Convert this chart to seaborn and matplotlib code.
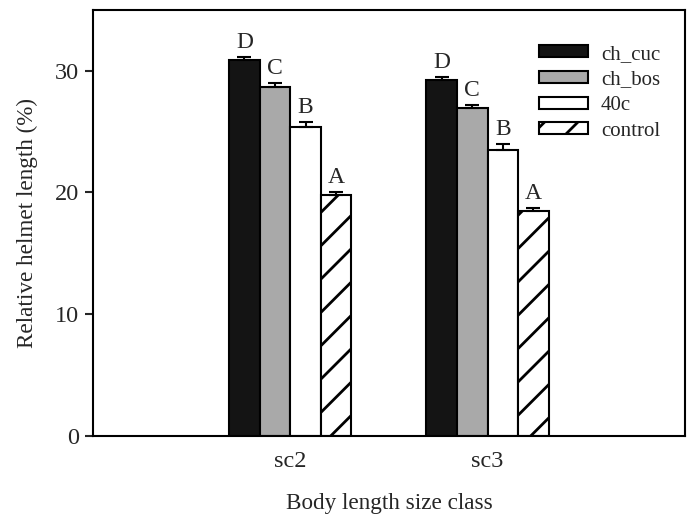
import pandas as pd
import numpy as np
import seaborn as sns
from matplotlib import pyplot as plt

size_classes = ["sc2", "sc3"]
treatments = ["ch_cuc", "ch_bos", "40c", "control"]
means_sc2 = [30.9, 28.7, 25.4, 19.8]
means_sc3 = [29.2, 26.9, 23.5, 18.5]
err_sc2 = [0.2, 0.25, 0.35, 0.2]
err_sc3 = [0.3, 0.25, 0.45, 0.25]
letters = ["D", "C", "B", "A"]

df = pd.DataFrame({
    "size_class": np.repeat(size_classes, len(treatments)),
    "treatment": treatments * len(size_classes),
    "value": means_sc2 + means_sc3,
    "err": err_sc2 + err_sc3,
})

sns.set_style("white")
plt.rcParams["font.family"] = ["Liberation Serif", "DejaVu Serif"]
plt.rcParams["hatch.linewidth"] = 2.0

fig = plt.figure(figsize=(6.89, 5.16), dpi=100)
ax = fig.add_axes([0.135, 0.155, 0.859, 0.826])

colors = ["#141414", "#a9a9a9", "white", "white"]
hatches = ["", "", "", "/"]

sns.barplot(data=df, x="size_class", y="value", hue="treatment",
            order=size_classes, hue_order=treatments, palette=colors,
            width=0.62, gap=0, errorbar=None, ax=ax, legend=False,
            edgecolor="black", linewidth=1.5, saturation=1)

bar_conts = list(ax.containers)
for cont, h, t in zip(bar_conts, hatches, treatments):
    sub = df[df.treatment == t].set_index("size_class").loc[size_classes]
    for bar, val, err in zip(cont.patches, sub.value, sub.err):
        bar.set_hatch(h)
        bar.set_facecolor(colors[treatments.index(t)])
        bar.set_edgecolor("black")
        xc = bar.get_x() + bar.get_width() / 2
        ax.errorbar(xc, val, yerr=[[0], [err]], color="black",
                    capsize=5, capthick=1.5, elinewidth=1.5, zorder=3)
        ax.annotate(letters[treatments.index(t)], (xc, val + err),
                    xytext=(0, 3), textcoords="offset points",
                    ha="center", va="bottom", fontsize=17)

ax.set_xlim(-1, 2)
ax.set_ylim(0, 35)
ax.set_yticks([0, 10, 20, 30])
ax.tick_params(axis="y", direction="out", length=6, width=1.5, left=True,
               labelsize=17.5, pad=4)
ax.tick_params(axis="x", length=0, pad=11, labelsize=17.5)
for s in ax.spines.values():
    s.set_visible(True)
    s.set_linewidth(1.5)
    s.set_color("black")

ax.set_xlabel("Body length size class", fontsize=16.7, labelpad=15)
ax.set_ylabel("Relative helmet length (%)", fontsize=16.7, labelpad=12)

handles = [c.patches[0] for c in bar_conts]
ax.legend(handles, treatments, loc="upper right", frameon=False,
          fontsize=15, handlelength=2.35, handleheight=0.5,
          labelspacing=0.32, handletextpad=0.6,
          bbox_to_anchor=(0.99, 0.962))

fig.savefig("out.png", dpi=100)
